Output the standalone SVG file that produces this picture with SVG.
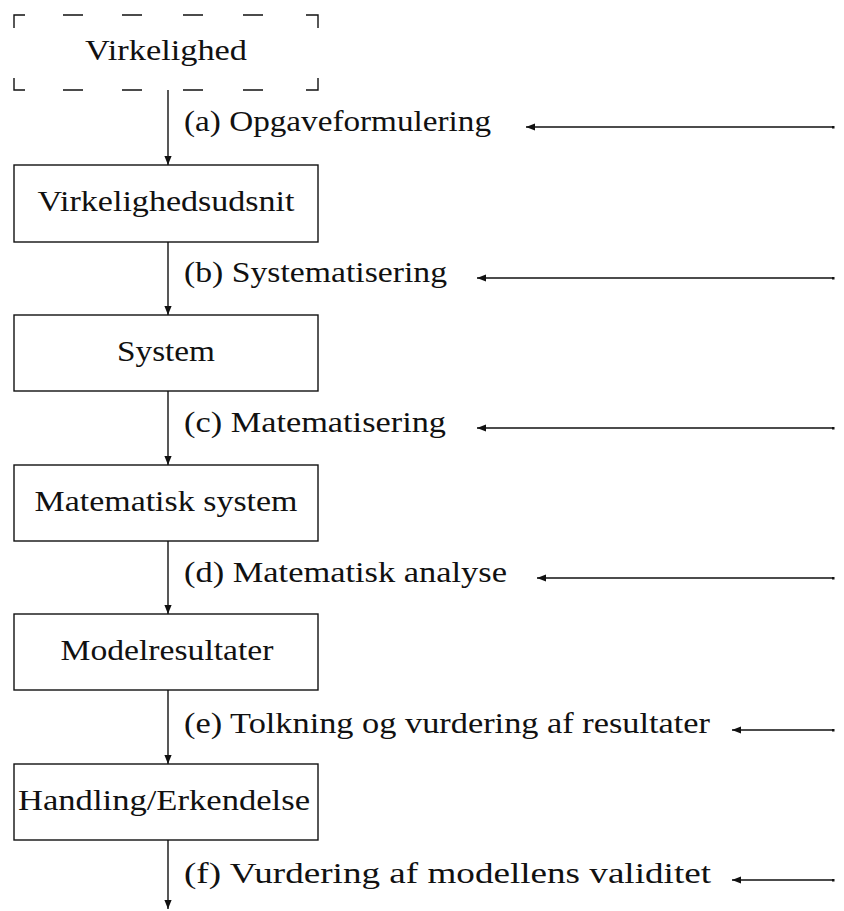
<svg xmlns="http://www.w3.org/2000/svg" width="844" height="911" viewBox="0 0 844 911">
<style>
.box{fill:none;stroke:#111;stroke-width:1.4}
.ln{fill:none;stroke:#111;stroke-width:1.4}
.t{font-family:"Liberation Serif",serif;font-size:30px;fill:#111}
.n{text-anchor:middle}
</style>
<defs>
<marker id="ah" viewBox="0 0 10 10" refX="10" refY="5" markerWidth="9" markerHeight="9" markerUnits="userSpaceOnUse" orient="auto">
<path d="M0,1 L10,5 L0,9 Z" fill="#111"/>
</marker>
<marker id="dot" viewBox="0 0 4 4" refX="2" refY="2" markerWidth="3" markerHeight="3" markerUnits="userSpaceOnUse">
<rect width="4" height="4" fill="#111"/>
</marker>
</defs>
<g id="n1">
<path class="box" d="M14,28 V15 H25 M63,15 H83 M122,15 H142 M183,15 H203 M243,15 H263 M306,15 H318 V28 M14,78 V90 H25 M63,90 H83 M122,90 H142 M183,90 H203 M243,90 H263 M306,90 H318 V78"/>
<text class="t n" x="166" y="60" textLength="162" lengthAdjust="spacingAndGlyphs">Virkelighed</text>
</g>
<g id="n2">
<rect class="box" x="14" y="165" width="304" height="77"/>
<text class="t n" x="166" y="211" textLength="257" lengthAdjust="spacingAndGlyphs">Virkelighedsudsnit</text>
</g>
<g id="n3">
<rect class="box" x="14" y="315" width="304" height="76"/>
<text class="t n" x="166" y="361" textLength="98" lengthAdjust="spacingAndGlyphs">System</text>
</g>
<g id="n4">
<rect class="box" x="14" y="465" width="304" height="76"/>
<text class="t n" x="166" y="511" textLength="263" lengthAdjust="spacingAndGlyphs">Matematisk system</text>
</g>
<g id="n5">
<rect class="box" x="14" y="614" width="304" height="76"/>
<text class="t n" x="167" y="660" textLength="213" lengthAdjust="spacingAndGlyphs">Modelresultater</text>
</g>
<g id="n6">
<rect class="box" x="14" y="764" width="304" height="76"/>
<text class="t n" x="164" y="810" textLength="292" lengthAdjust="spacingAndGlyphs">Handling/Erkendelse</text>
</g>
<g id="connectors">
<line class="ln" x1="168" y1="90" x2="168" y2="165" marker-end="url(#ah)"/>
<line class="ln" x1="168" y1="242" x2="168" y2="315" marker-end="url(#ah)"/>
<line class="ln" x1="168" y1="391" x2="168" y2="465" marker-end="url(#ah)"/>
<line class="ln" x1="168" y1="541" x2="168" y2="614" marker-end="url(#ah)"/>
<line class="ln" x1="168" y1="690" x2="168" y2="764" marker-end="url(#ah)"/>
<line class="ln" x1="168" y1="840" x2="168" y2="909" marker-end="url(#ah)"/>
<line class="ln" x1="833" y1="127" x2="526" y2="127" marker-start="url(#dot)" marker-end="url(#ah)"/>
<line class="ln" x1="833" y1="278" x2="477" y2="278" marker-start="url(#dot)" marker-end="url(#ah)"/>
<line class="ln" x1="833" y1="428" x2="477" y2="428" marker-start="url(#dot)" marker-end="url(#ah)"/>
<line class="ln" x1="833" y1="578" x2="537" y2="578" marker-start="url(#dot)" marker-end="url(#ah)"/>
<line class="ln" x1="833" y1="730" x2="732" y2="730" marker-start="url(#dot)" marker-end="url(#ah)"/>
<line class="ln" x1="833" y1="880" x2="732" y2="880" marker-start="url(#dot)" marker-end="url(#ah)"/>
<text class="t" x="184" y="131" textLength="307" lengthAdjust="spacingAndGlyphs">(a) Opgaveformulering</text>
<text class="t" x="184" y="282" textLength="263" lengthAdjust="spacingAndGlyphs">(b) Systematisering</text>
<text class="t" x="184" y="432" textLength="262" lengthAdjust="spacingAndGlyphs">(c) Matematisering</text>
<text class="t" x="184" y="582" textLength="323" lengthAdjust="spacingAndGlyphs">(d) Matematisk analyse</text>
<text class="t" x="184" y="733" textLength="526" lengthAdjust="spacingAndGlyphs">(e) Tolkning og vurdering af resultater</text>
<text class="t" x="184" y="883" textLength="527" lengthAdjust="spacingAndGlyphs">(f) Vurdering af modellens validitet</text>
</g>
</svg>
